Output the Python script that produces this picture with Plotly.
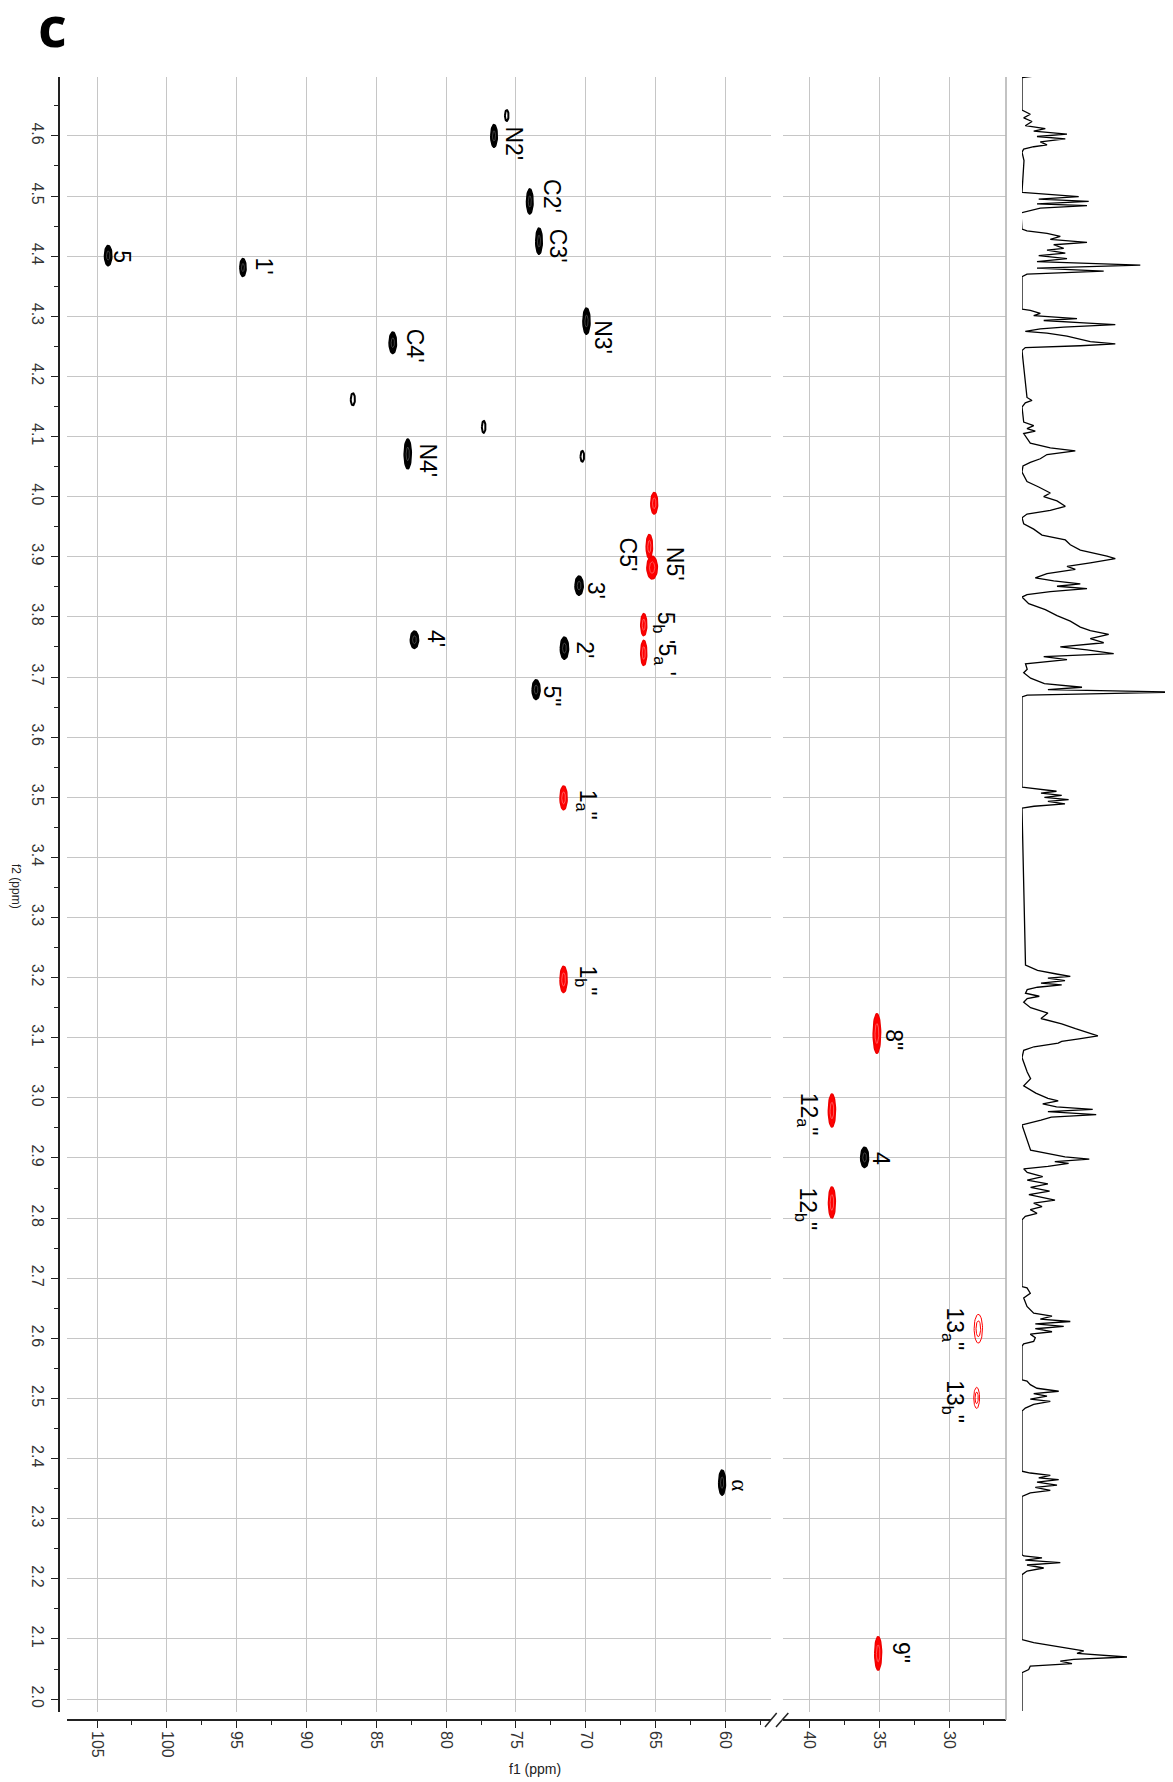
import numpy as np
import plotly.graph_objects as go

# ---------------- DATA ----------------
# positive (black) cross peaks: f1 (13C ppm), f2 (1H ppm), half linewidths
pos_f1 = [104.2, 94.55, 76.57, 74.01, 73.35, 69.95, 83.82, 82.75, 70.48, 82.27, 71.53, 73.56, 36.04, 60.24]
pos_f2 = [4.401, 4.381, 4.600, 4.491, 4.425, 4.292, 4.256, 4.071, 3.852, 3.762, 3.748, 3.679, 2.901, 2.360]
pos_w1 = [0.27, 0.23, 0.24, 0.24, 0.24, 0.26, 0.27, 0.26, 0.30, 0.30, 0.30, 0.29, 0.29, 0.25]
pos_w2 = [0.017, 0.015, 0.019, 0.021, 0.022, 0.022, 0.018, 0.025, 0.016, 0.0145, 0.0185, 0.0165, 0.017, 0.021]

# weak positive peaks (drawn as single contour rings)
weak_f1 = [75.66, 86.68, 77.31, 70.25]
weak_f2 = [4.634, 4.162, 4.116, 4.067]
weak_w1 = [0.13, 0.15, 0.13, 0.13]
weak_w2 = [0.009, 0.010, 0.010, 0.009]

# negative (red) cross peaks
neg_f1 = [65.10, 65.45, 65.25, 65.85, 65.85, 71.59, 71.59, 35.16, 38.38, 38.38, 35.07]
neg_f2 = [3.989, 3.917, 3.882, 3.787, 3.740, 3.499, 3.197, 3.107, 2.979, 2.826, 2.076]
neg_w1 = [0.25, 0.23, 0.38, 0.22, 0.22, 0.26, 0.26, 0.27, 0.26, 0.25, 0.25]
neg_w2 = [0.018, 0.020, 0.019, 0.0185, 0.021, 0.020, 0.022, 0.033, 0.0275, 0.026, 0.028]

# weak negative peaks (outline contours only)
wneg_f1 = [27.90, 28.02]
wneg_f2 = [2.616, 2.501]
wneg_w1 = [0.30, 0.21]
wneg_w2 = [0.024, 0.0175]

# assignment labels
lab_text = ["5", "1'", "N2'", "C2'", "C3'", "N3'", "C4'", "N4'", "C5'", "N5'", "3'",
            "5<sub>b</sub> '", "5<sub>a</sub> '", "4'", "2'", "5\"", "1<sub>a</sub>\"", "1<sub>b</sub>\"",
            "8\"", "12<sub>a</sub>\"", "4", "12<sub>b</sub>\"", "13<sub>a</sub>\"", "13<sub>b</sub>\"", "α", "9\""]
lab_f1 = [103.21, 93.02, 75.16, 72.42, 71.98, 68.76, 82.23, 81.29, 66.99, 63.60, 69.26,
          64.40, 64.32, 80.69, 70.07, 72.43, 69.89, 69.94,
          33.94, 40.07, 34.82, 40.19, 29.69, 29.69, 59.00, 33.45]
lab_f2 = [4.400, 4.384, 4.588, 4.500, 4.417, 4.265, 4.251, 4.060, 3.904, 3.888, 3.845,
          3.782, 3.729, 3.764, 3.745, 3.668, 3.487, 3.196,
          3.096, 2.973, 2.899, 2.815, 2.616, 2.495, 2.355, 2.077]

# 1D 1H projection (f2 ppm, intensity)
spec_f2 = [4.699, 4.697, 4.643, 4.636, 4.630, 4.624, 4.617, 4.612, 4.608, 4.603, 4.599, 4.595, 4.590,
           4.585, 4.582, 4.578, 4.573, 4.559, 4.506, 4.504, 4.499, 4.495, 4.491, 4.487, 4.484, 4.480,
           4.475, 4.472, 4.445, 4.442, 4.438, 4.433, 4.428, 4.423, 4.419, 4.413, 4.410, 4.405, 4.401,
           4.396, 4.391, 4.385, 4.380, 4.375, 4.370, 4.366, 4.312, 4.310, 4.305, 4.301, 4.296, 4.293,
           4.289, 4.286, 4.282, 4.279, 4.275, 4.272, 4.267, 4.262, 4.258, 4.254, 4.251, 4.248, 4.243,
           4.165, 4.160, 4.156, 4.149, 4.124, 4.118, 4.113, 4.109, 4.105, 4.089, 4.081, 4.076, 4.070,
           4.063, 4.057, 4.051, 4.041, 4.025, 4.016, 4.006, 4.000, 3.993, 3.984, 3.977, 3.971, 3.965,
           3.955, 3.946, 3.936, 3.928, 3.920, 3.911, 3.901, 3.897, 3.890, 3.884, 3.879, 3.872, 3.865,
           3.860, 3.855, 3.851, 3.847, 3.842, 3.837, 3.833, 3.822, 3.812, 3.802, 3.793, 3.783, 3.777,
           3.771, 3.764, 3.757, 3.750, 3.745, 3.739, 3.734, 3.729, 3.722, 3.713, 3.707, 3.698, 3.689,
           3.683, 3.679, 3.675, 3.670, 3.667, 3.517, 3.5145, 3.510, 3.507, 3.503, 3.4997, 3.496, 3.493,
           3.489, 3.485, 3.482, 3.221, 3.212, 3.206, 3.202, 3.199, 3.195, 3.191, 3.188, 3.184, 3.180,
           3.174, 3.169, 3.165, 3.159, 3.150, 3.141, 3.132, 3.123, 3.115, 3.109, 3.103, 3.098, 3.094,
           3.091, 3.085, 3.079, 3.067, 3.043, 3.032, 3.020, 3.008, 2.999, 2.995, 2.990, 2.985, 2.981,
           2.977, 2.972, 2.968, 2.963, 2.959, 2.955, 2.913, 2.907, 2.902, 2.898, 2.894, 2.891, 2.886,
           2.882, 2.876, 2.869, 2.863, 2.857, 2.851, 2.845, 2.839, 2.830, 2.825, 2.819, 2.814, 2.808,
           2.803, 2.797, 2.686, 2.684, 2.675, 2.667, 2.661, 2.653, 2.642, 2.637, 2.632, 2.628, 2.624,
           2.620, 2.616, 2.611, 2.607, 2.601, 2.595, 2.591, 2.587, 2.531, 2.529, 2.523, 2.517, 2.512,
           2.508, 2.504, 2.499, 2.495, 2.490, 2.484, 2.479, 2.379, 2.376, 2.372, 2.368, 2.365, 2.361,
           2.356, 2.352, 2.347, 2.343, 2.337, 2.240, 2.238, 2.235, 2.231, 2.227, 2.223, 2.218, 2.213,
           2.207, 2.099, 2.094, 2.085, 2.080, 2.076, 2.070, 2.066, 2.063, 2.059, 2.055, 2.049, 2.044,
           1.980]
spec_int = [10.0, 0.0, 0.0, 8.3, 1.7, 10.0, 3.3, 23.3, 11.7, 45.0, 15.0, 43.3, 18.3,
            25.0, 11.7, 1.7, 0.0, 2.0, 0.0, 16.7, 56.7, 16.7, 66.7, 15.0, 65.0, 18.3,
            5.0, -1.0, 0.0, 5.0, 25.0, 38.3, 28.3, 65.0, 31.7, 41.7, 25.0, 43.3, 16.7,
            45.0, 15.0, 118.3, 15.0, 81.7, 5.0, 0.0, 0.0, 8.3, 18.3, 11.7, 55.0, 21.7,
            61.7, 93.3, 41.7, 18.3, 3.3, 25.0, 45.0, 58.3, 68.3, 93.3, 58.3, 3.3, 0.0,
            5.0, 10.0, 3.3, 0.0, 1.7, 11.7, 5.0, 13.3, 1.7, 8.3, 28.3, 53.3, 25.0,
            18.3, 8.3, 1.0, 0.0, 5.0, 16.7, 28.3, 21.7, 35.0, 43.3, 28.3, 5.0, 0.0,
            1.7, 11.7, 20.0, 43.3, 48.3, 58.3, 85.0, 93.3, 68.3, 45.0, 53.3, 25.0, 13.3,
            31.7, 58.3, 35.0, 65.0, 28.3, 5.0, 0.0, 6.7, 23.3, 35.0, 48.3, 58.3, 68.3,
            86.7, 68.3, 81.7, 38.3, 65.0, 91.7, 21.7, 45.0, 3.5, 5.2, 1.7, 8.6, 22.4,
            60.0, 25.9, 157.0, 5.2, 0.0, 0.0, 13.8, 34.5, 19.0, 39.7, 22.4, 46.6, 25.9,
            43.0, 12.0, 0.0, 3.5, 15.5, 34.5, 48.3, 25.9, 43.0, 19.0, 39.7, 15.5, 5.2,
            3.5, 17.3, 5.2, 1.7, 8.6, 25.9, 19.0, 39.7, 53.5, 63.8, 75.9, 57.0, 39.7,
            36.2, 12.0, 1.7, 0.0, 5.2, 8.6, 1.7, 13.8, 25.9, 36.2, 20.7, 34.5, 70.7,
            25.9, 74.2, 29.3, 19.0, 8.6, 0.0, 8.6, 25.9, 43.0, 67.3, 32.8, 46.6, 25.9,
            1.7, 5.2, 20.7, 5.2, 25.9, 8.6, 27.6, 6.9, 33.0, 11.7, 20.0, 8.3, 15.0,
            3.3, 0.0, 0.0, 5.0, 8.3, 1.7, 3.3, 5.0, 11.7, 30.0, 18.3, 48.3, 13.3,
            41.7, 13.3, 30.0, 8.3, 13.3, 11.7, 1.7, 0.0, 0.0, 5.0, 8.3, 15.0, 36.7,
            11.7, 25.0, 8.3, 28.3, 11.7, 3.3, 0.0, 0.0, 8.3, 28.3, 16.7, 36.7, 15.0,
            35.0, 13.3, 28.3, 8.3, 0.0, 0.0, 1.7, 20.0, 3.3, 38.3, 5.0, 21.7, 5.0,
            0.0, 0.0, 11.7, 41.7, 61.7, 55.0, 105.0, 51.7, 38.3, 50.0, 8.3, 6.7, 0.0,
            0.0]

# axis tick values
x_ticks_left = [105, 100, 95, 90, 85, 80, 75, 70, 65, 60]
x_ticks_right = [40, 35, 30]
y_ticks = [2.0, 2.1, 2.2, 2.3, 2.4, 2.5, 2.6, 2.7, 2.8, 2.9, 3.0, 3.1, 3.2, 3.3, 3.4,
           3.5, 3.6, 3.7, 3.8, 3.9, 4.0, 4.1, 4.2, 4.3, 4.4, 4.5, 4.6]

# ---------------- FIGURE ----------------
OFF = 8                      # page body margin of the html
W, H = 1173 - OFF, 1782 - OFF
ML, MR, MT, MB = 59 - OFF, 0, 77 - OFF, 62
PW, PH = W - ML - MR, H - MT - MB
BREAK = 50.0  # f1 values below this go to the right panel


def px_x(p):
    return (p - OFF - ML) / PW


def px_y(p):
    return (1720 - p) / PH


def clamp(v):
    return max(0.0, min(1.0, v))


def ellipse_path(f1s, f2s, w1s, w2s, panel_right, scale=1.0):
    t = np.linspace(0, 2 * np.pi, 48)
    xs, ys = [], []
    for a, b, c, d in zip(f1s, f2s, w1s, w2s):
        if (a < BREAK) != panel_right:
            continue
        xs += list(a + c * scale * np.cos(t)) + [None]
        ys += list(b + d * scale * np.sin(t)) + [None]
    return xs, ys


fig = go.Figure()

for right, xa in [(False, "x"), (True, "x2")]:
    xs, ys = ellipse_path(pos_f1, pos_f2, pos_w1, pos_w2, right)
    fig.add_trace(go.Scatter(x=xs, y=ys, xaxis=xa, yaxis="y", mode="lines", fill="toself",
                             fillcolor="#000000", line=dict(color="#000000", width=1.4),
                             hoverinfo="skip", showlegend=False))
    xs, ys = ellipse_path(pos_f1, pos_f2, pos_w1, pos_w2, right, 0.45)
    fig.add_trace(go.Scatter(x=xs, y=ys, xaxis=xa, yaxis="y", mode="lines",
                             line=dict(color="#6a6a6a", width=0.6),
                             hoverinfo="skip", showlegend=False))
    xs, ys = ellipse_path(weak_f1, weak_f2, weak_w1, weak_w2, right)
    fig.add_trace(go.Scatter(x=xs, y=ys, xaxis=xa, yaxis="y", mode="lines",
                             line=dict(color="#000000", width=2.0),
                             hoverinfo="skip", showlegend=False))
    xs, ys = ellipse_path(neg_f1, neg_f2, neg_w1, neg_w2, right)
    fig.add_trace(go.Scatter(x=xs, y=ys, xaxis=xa, yaxis="y", mode="lines", fill="toself",
                             fillcolor="#ff0000", line=dict(color="#ee0000", width=1.4),
                             hoverinfo="skip", showlegend=False))
    xs, ys = ellipse_path(neg_f1, neg_f2, neg_w1, neg_w2, right, 0.5)
    fig.add_trace(go.Scatter(x=xs, y=ys, xaxis=xa, yaxis="y", mode="lines",
                             line=dict(color="#ff9090", width=0.6),
                             hoverinfo="skip", showlegend=False))
    for sc in (1.0, 0.55):
        xs, ys = ellipse_path(wneg_f1, wneg_f2, wneg_w1, wneg_w2, right, sc)
        fig.add_trace(go.Scatter(x=xs, y=ys, xaxis=xa, yaxis="y", mode="lines",
                                 line=dict(color="#ff0000", width=1.0),
                                 hoverinfo="skip", showlegend=False))

# 1D projection
fig.add_trace(go.Scatter(x=spec_int, y=spec_f2, xaxis="x3", yaxis="y2", mode="lines",
                         line=dict(color="#000000", width=1.3), hoverinfo="skip",
                         showlegend=False))

grid_col = "#c6c6c6"
tick_font = dict(family="Liberation Sans, Arial, sans-serif", size=16, color="#333333")
axis_common = dict(showline=True, linecolor="#222222", linewidth=1.6, ticks="outside",
                   ticklen=7, tickwidth=1.4, tickcolor="#222222", tickangle=90,
                   showgrid=True, gridcolor=grid_col, gridwidth=1.3, zeroline=False,
                   tickfont=tick_font, anchor="free", position=0, mirror=False)

ydom = [clamp(px_y(1711.7)), clamp(px_y(76.7))]

fig.update_layout(
    width=W, height=H,
    margin=dict(l=ML, r=MR, t=MT, b=MB, autoexpand=False),
    paper_bgcolor="#ffffff", plot_bgcolor="#ffffff",
    xaxis=dict(domain=[px_x(66.7), px_x(770.7)], range=[107.17, 56.76],
               tickmode="array", tickvals=x_ticks_left, ticktext=[str(v) for v in x_ticks_left],
               minor=dict(dtick=2.5, tick0=0, ticklen=4, ticks="outside", tickcolor="#222222",
                          showgrid=False),
               **axis_common),
    xaxis2=dict(domain=[px_x(783.3), px_x(1006)], range=[41.86, 25.92],
                tickmode="array", tickvals=x_ticks_right, ticktext=[str(v) for v in x_ticks_right],
                minor=dict(dtick=2.5, tick0=0, ticklen=4, ticks="outside", tickcolor="#222222",
                           showgrid=False),
                **axis_common),
    yaxis=dict(domain=ydom, range=[1.979, 4.698],
               tickmode="array", tickvals=y_ticks, ticktext=["%.1f" % v for v in y_ticks],
               minor=dict(dtick=0.05, tick0=0, ticklen=4, ticks="outside", tickcolor="#222222",
                          showgrid=False),
               **axis_common),
    xaxis3=dict(domain=[px_x(1022), 1.0], range=[0, 151], visible=False, anchor="y2"),
    yaxis2=dict(domain=ydom, range=[1.979, 4.698], visible=False,
                anchor="x3", matches="y"),
)

label_font = dict(family="Liberation Sans, Arial, sans-serif", size=23, color="#000000")
for t, a, b in zip(lab_text, lab_f1, lab_f2):
    f = label_font
    if t == "α":
        f = dict(family="Liberation Serif, Times New Roman, serif", size=23, color="#000000")
    fig.add_annotation(text=t, x=a, y=b, xref="x2" if a < BREAK else "x", yref="y",
                       showarrow=False, textangle=90, xanchor="center", yanchor="middle",
                       font=f)

# axis titles and panel letter
fig.add_annotation(text="f1 (ppm)", x=px_x(535), y=px_y(1769), xref="paper", yref="paper",
                   showarrow=False, xanchor="center", yanchor="middle",
                   font=dict(family="Liberation Sans, Arial, sans-serif", size=14, color="#222222"))
fig.add_annotation(text="f2 (ppm)", x=px_x(16), y=px_y(886), xref="paper", yref="paper",
                   showarrow=False, textangle=90, xanchor="center", yanchor="middle",
                   font=dict(family="Liberation Sans, Arial, sans-serif", size=12, color="#222222"))
fig.add_annotation(text="<b>c</b>", x=px_x(52), y=px_y(25), xref="paper", yref="paper",
                   showarrow=False, xanchor="center", yanchor="middle",
                   font=dict(family="Open Sans, Arial, sans-serif", size=56, color="#000000"))

# right border of the 2D region
fig.add_shape(type="line", xref="paper", yref="paper",
              x0=px_x(1006), y0=px_y(1720), x1=px_x(1006), y1=ydom[1],
              line=dict(color="#b4b4b4", width=1.6))

# axis-break marks
for x0, x1 in [(765, 776.7), (776, 788.3)]:
    fig.add_shape(type="line", xref="paper", yref="paper",
                  x0=px_x(x0), y0=px_y(1727), x1=px_x(x1), y1=px_y(1713),
                  line=dict(color="#222222", width=1.5))

fig.write_html("out.html")
